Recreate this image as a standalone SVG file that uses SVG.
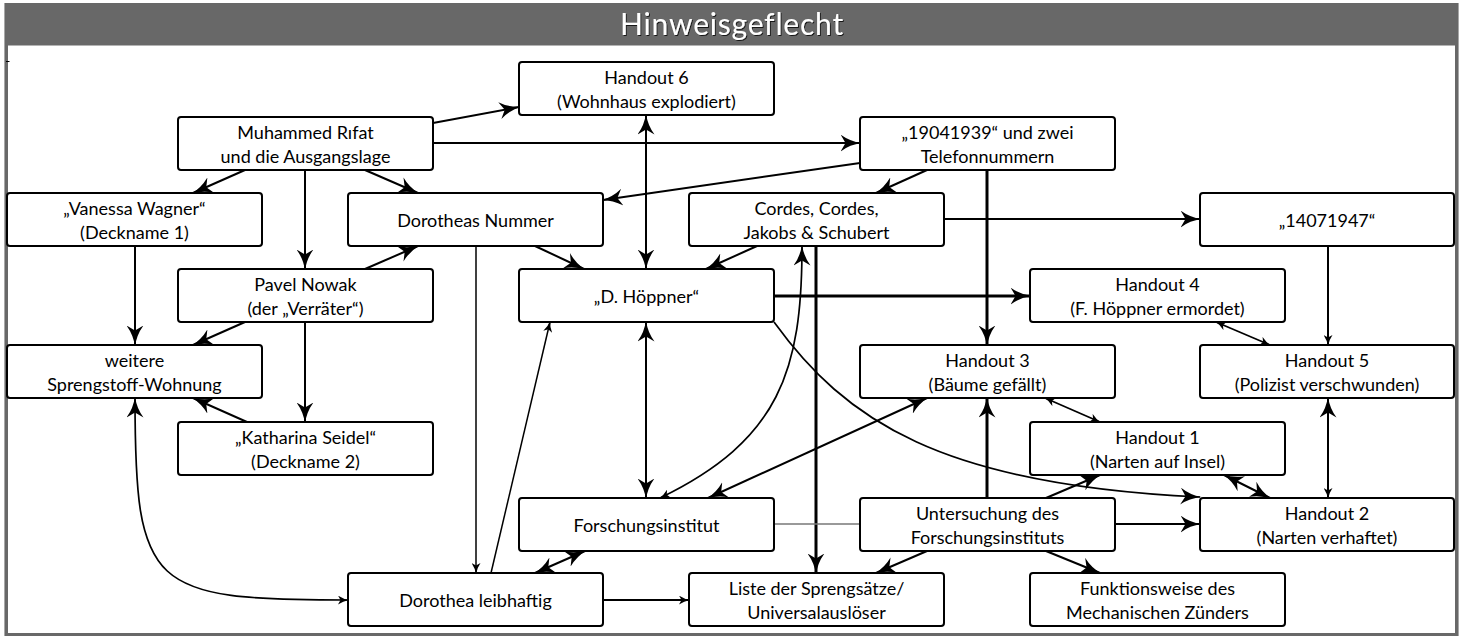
<svg xmlns="http://www.w3.org/2000/svg" width="1469" height="636" viewBox="0 0 1469 636">
<style>
.node rect{fill:#fff;stroke:#000;stroke-width:2}
.node text{font-family:Lato,"Open Sans",sans-serif;font-size:18px;text-anchor:middle;fill:#000}
.e{fill:none;stroke:#000;stroke-width:2}
.thick{stroke-width:3}
.thin{stroke-width:1.5}
.gray{stroke:#777;stroke-width:1.3}
.ab{marker-end:url(#ab)}
.abb{marker-start:url(#ab);marker-end:url(#ab)}
.title{font-family:Lato,"Open Sans",sans-serif;font-size:30px;letter-spacing:0.8px;fill:#fff;text-anchor:middle}
</style>
<defs>
<marker id="ab" viewBox="0 0 21 17" refX="19.5" refY="8.5" markerWidth="21" markerHeight="17" markerUnits="userSpaceOnUse" orient="auto-start-reverse"><path d="M21,8.5 Q9,6.8 0,0 L5,8.5 L0,17 Q9,10.2 21,8.5 Z" fill="#000"/></marker>
<marker id="as" viewBox="0 0 11 9" refX="10" refY="4.5" markerWidth="11" markerHeight="9" markerUnits="userSpaceOnUse" orient="auto-start-reverse"><path d="M11,4.5 Q5,3.5 0,0 L2.5,4.5 L0,9 Q5,5.5 11,4.5 Z" fill="#000"/></marker>
<filter id="sh" x="-10%" y="-30%" width="120%" height="160%"><feDropShadow dx="1" dy="1" stdDeviation="0.7" flood-color="#111" flood-opacity="0.9"/></filter>
</defs>
<g id="frame">
<rect x="4.5" y="3.5" width="1454" height="632" fill="#fff" stroke="#a8a8a8" stroke-width="1"/>
<rect x="6.5" y="4.5" width="1450" height="630" fill="#fff" stroke="#686868" stroke-width="3"/>
<rect x="5" y="3" width="1453" height="42.5" fill="#686868"/>
<text class="title" x="732" y="35" filter="url(#sh)">Hinweisgeflecht</text>
<line x1="6" y1="61.5" x2="9.5" y2="61.5" stroke="#000" stroke-width="1"/>
</g>
<g id="connectors">
<path class="e ab" d="M433,123 L519,107"/>
<path class="e ab" d="M433,143 L860,143"/>
<path class="e ab" d="M245,170 L193,193"/>
<path class="e ab" d="M305,170 L305,269"/>
<path class="e ab" d="M365,170 L418,193"/>
<path class="e ab" d="M860,163 L603,200"/>
<path class="e ab" d="M927,170 L876,193"/>
<path class="e thick ab" d="M987,170 L987,345"/>
<path class="e ab" d="M944,219 L1200,219"/>
<path class="e ab" d="M757,246 L706,269"/>
<path class="e ab" d="M535,246 L584,269"/>
<path class="e abb" d="M646,115 L646,269"/>
<path class="e thick ab" d="M774,296 L1030,296"/>
<path class="e abb" d="M646,322 L646,498"/>
<path class="e" style="stroke-width:1.7" marker-start="url(#as)" marker-end="url(#ab)" d="M660,498 C780,440 802,370 802,246"/>
<path class="e abb" d="M927,398 L708,498"/>
<path class="e ab" style="stroke-width:1.7" d="M774,322 C845,420 940,485 1200,497"/>
<path class="e thick ab" d="M987,498 L987,398"/>
<path class="e" style="stroke-width:1.7" marker-start="url(#as)" marker-end="url(#as)" d="M1045,398 L1100,422"/>
<path class="e" style="stroke-width:1.7" marker-start="url(#as)" marker-end="url(#as)" d="M1216,322 L1270,345"/>
<path class="e" marker-end="url(#as)" d="M1328,246 L1328,345"/>
<path class="e" marker-start="url(#ab)" marker-end="url(#as)" d="M1328,398 L1328,498"/>
<path class="e abb" d="M1224,475 L1270,498"/>
<path class="e ab" d="M1046,498 L1100,475"/>
<path class="e ab" d="M1115,524 L1200,524"/>
<path class="e ab" d="M1046,551 L1100,573"/>
<path class="e ab" d="M927,551 L876,573"/>
<path class="e thick ab" d="M816,246 L816,573"/>
<path class="e gray" d="M774,524 L860,524"/>
<path class="e abb" d="M585,551 L535,573"/>
<path class="e" marker-end="url(#as)" d="M603,600 L689,600"/>
<path class="e thin" marker-end="url(#as)" d="M476,246 L476,573"/>
<path class="e thin" marker-end="url(#as)" d="M491,573 L550,322"/>
<path class="e" style="stroke-width:1.7" marker-start="url(#ab)" marker-end="url(#as)" d="M135,398 C135,590 150,600 348,600"/>
<path class="e ab" d="M135,246 L135,345"/>
<path class="e ab" d="M245,322 L193,345"/>
<path class="e ab" d="M365,269 L418,246"/>
<path class="e ab" d="M305,322 L305,422"/>
<path class="e ab" d="M247,422 L193,398"/>
</g>
<g id="n_handout6" class="node"><rect x="519" y="62" width="255" height="53" rx="3"/><text x="646.5" y="83.5">Handout 6</text><text x="646.5" y="107.5">(Wohnhaus explodiert)</text></g>
<g id="n_muhammed" class="node"><rect x="178" y="117" width="255" height="53" rx="3"/><text x="305.5" y="138.5">Muhammed Rıfat</text><text x="305.5" y="162.5">und die Ausgangslage</text></g>
<g id="n_19041939" class="node"><rect x="860" y="117" width="255" height="53" rx="3"/><text x="987.5" y="138.5">„19041939“ und zwei</text><text x="987.5" y="162.5">Telefonnummern</text></g>
<g id="n_vanessa" class="node"><rect x="7" y="193" width="255" height="53" rx="3"/><text x="134.5" y="214.5">„Vanessa Wagner“</text><text x="134.5" y="238.5">(Deckname 1)</text></g>
<g id="n_dnummer" class="node"><rect x="348" y="193" width="255" height="53" rx="3"/><text x="475.5" y="226.5">Dorotheas Nummer</text></g>
<g id="n_cordes" class="node"><rect x="689" y="193" width="255" height="53" rx="3"/><text x="816.5" y="214.5">Cordes, Cordes,</text><text x="816.5" y="238.5">Jakobs &amp; Schubert</text></g>
<g id="n_14071947" class="node"><rect x="1200" y="193" width="254" height="53" rx="3"/><text x="1327" y="226.5">„14071947“</text></g>
<g id="n_pavel" class="node"><rect x="178" y="269" width="255" height="53" rx="3"/><text x="305.5" y="290.5">Pavel Nowak</text><text x="305.5" y="314.5">(der „Verräter“)</text></g>
<g id="n_hoeppner" class="node"><rect x="519" y="269" width="255" height="53" rx="3"/><text x="646.5" y="302.5">„D. Höppner“</text></g>
<g id="n_handout4" class="node"><rect x="1030" y="269" width="255" height="53" rx="3"/><text x="1157.5" y="290.5">Handout 4</text><text x="1157.5" y="314.5">(F. Höppner ermordet)</text></g>
<g id="n_weitere" class="node"><rect x="7" y="345" width="255" height="53" rx="3"/><text x="134.5" y="366.5">weitere</text><text x="134.5" y="390.5">Sprengstoff-Wohnung</text></g>
<g id="n_handout3" class="node"><rect x="860" y="345" width="255" height="53" rx="3"/><text x="987.5" y="366.5">Handout 3</text><text x="987.5" y="390.5">(Bäume gefällt)</text></g>
<g id="n_handout5" class="node"><rect x="1200" y="345" width="254" height="53" rx="3"/><text x="1327" y="366.5">Handout 5</text><text x="1327" y="390.5">(Polizist verschwunden)</text></g>
<g id="n_katharina" class="node"><rect x="178" y="422" width="255" height="53" rx="3"/><text x="305.5" y="443.5">„Katharina Seidel“</text><text x="305.5" y="467.5">(Deckname 2)</text></g>
<g id="n_handout1" class="node"><rect x="1030" y="422" width="255" height="53" rx="3"/><text x="1157.5" y="443.5">Handout 1</text><text x="1157.5" y="467.5">(Narten auf Insel)</text></g>
<g id="n_forschung" class="node"><rect x="519" y="498" width="255" height="53" rx="3"/><text x="646.5" y="531.5">Forschungsinstitut</text></g>
<g id="n_untersuchung" class="node"><rect x="860" y="498" width="255" height="53" rx="3"/><text x="987.5" y="519.5">Untersuchung des</text><text x="987.5" y="543.5">Forschungsinstituts</text></g>
<g id="n_handout2" class="node"><rect x="1200" y="498" width="254" height="53" rx="3"/><text x="1327" y="519.5">Handout 2</text><text x="1327" y="543.5">(Narten verhaftet)</text></g>
<g id="n_dleib" class="node"><rect x="348" y="573" width="255" height="53" rx="3"/><text x="475.5" y="606.5">Dorothea leibhaftig</text></g>
<g id="n_liste" class="node"><rect x="689" y="573" width="255" height="53" rx="3"/><text x="816.5" y="594.5">Liste der Sprengsätze/</text><text x="816.5" y="618.5">Universalauslöser</text></g>
<g id="n_funktion" class="node"><rect x="1030" y="573" width="255" height="53" rx="3"/><text x="1157.5" y="594.5">Funktionsweise des</text><text x="1157.5" y="618.5">Mechanischen Zünders</text></g>
</svg>
